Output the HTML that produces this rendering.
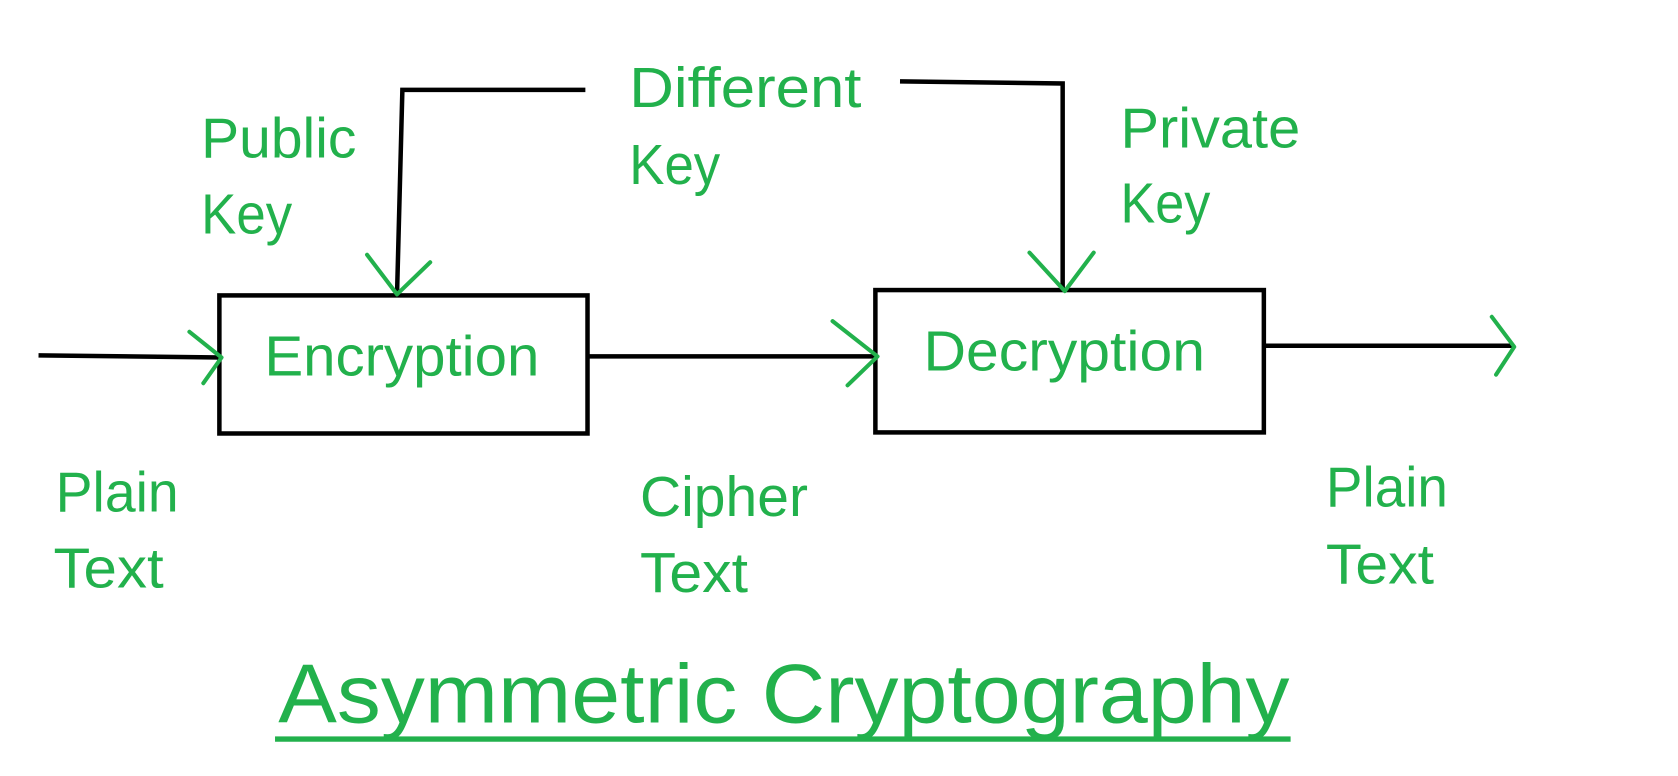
<!DOCTYPE html>
<html><head><meta charset="utf-8"><style>
html,body{margin:0;padding:0;background:#fff;width:1678px;height:776px;overflow:hidden}
svg{display:block}
text{font-family:"Liberation Sans",sans-serif;fill:#22b14c}
</style></head><body>
<svg width="1678" height="776" viewBox="0 0 1568 725" preserveAspectRatio="none">
<g fill="none" stroke="#000" stroke-width="4.2">
<rect x="205" y="276" width="344" height="129"/>
<rect x="818" y="271" width="363" height="133"/>
<line x1="36" y1="332" x2="207" y2="334"/>
<line x1="549" y1="333" x2="820" y2="333"/>
<line x1="1181" y1="323" x2="1413" y2="323"/>
<polyline points="547,84 376,84 371,275"/>
<polyline points="841,76 993,78 993,272"/>
</g>
<g fill="none" stroke="#22b14c" stroke-width="3.8" stroke-linecap="round" stroke-linejoin="round">
<polyline points="177,310 207,334 190,358"/>
<polyline points="778,300 820,333 792,360"/>
<polyline points="1394,296 1415,324 1398,350"/>
<polyline points="343,238 371,275 402,245"/>
<polyline points="962,236 995,272 1022,236"/>
</g>
<g font-size="53">
<text x="247" y="351" textLength="257" lengthAdjust="spacingAndGlyphs">Encryption</text>
<text x="863" y="346" textLength="263" lengthAdjust="spacingAndGlyphs">Decryption</text>
<text x="188" y="147" textLength="145" lengthAdjust="spacingAndGlyphs">Public</text>
<text x="188" y="218" textLength="85" lengthAdjust="spacingAndGlyphs">Key</text>
<text x="588" y="100" textLength="217" lengthAdjust="spacingAndGlyphs">Different</text>
<text x="588" y="172" textLength="85" lengthAdjust="spacingAndGlyphs">Key</text>
<text x="1047" y="138" textLength="168" lengthAdjust="spacingAndGlyphs">Private</text>
<text x="1047" y="208" textLength="84" lengthAdjust="spacingAndGlyphs">Key</text>
<text x="52" y="478" textLength="115" lengthAdjust="spacingAndGlyphs">Plain</text>
<text x="50" y="549" textLength="103" lengthAdjust="spacingAndGlyphs">Text</text>
<text x="598" y="482" textLength="157" lengthAdjust="spacingAndGlyphs">Cipher</text>
<text x="598" y="553" textLength="101" lengthAdjust="spacingAndGlyphs">Text</text>
<text x="1239" y="473" textLength="114" lengthAdjust="spacingAndGlyphs">Plain</text>
<text x="1239" y="545" textLength="101" lengthAdjust="spacingAndGlyphs">Text</text>
</g>
<text x="260" y="675" font-size="78" textLength="945" lengthAdjust="spacingAndGlyphs">Asymmetric Cryptography</text>
<rect x="257" y="688" width="949" height="5" fill="#22b14c"/>
</svg>
</body></html>
